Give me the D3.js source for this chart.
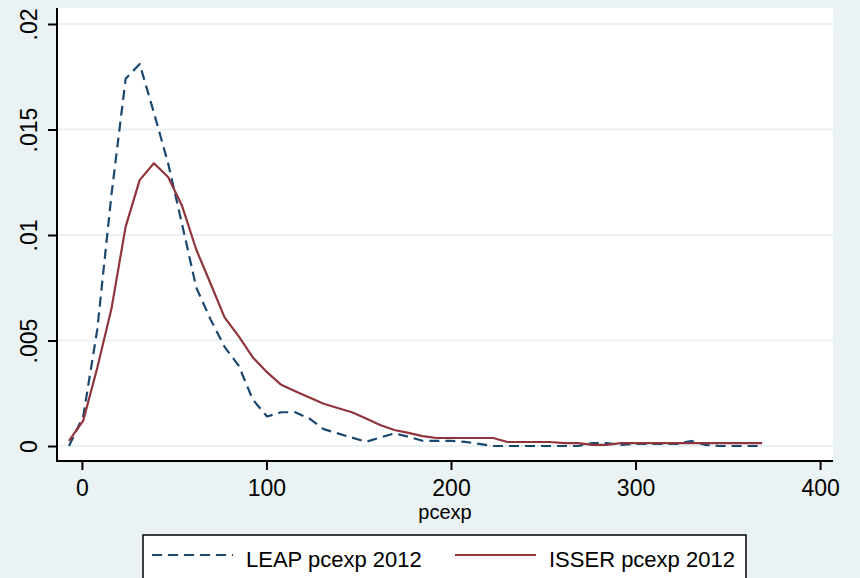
<!DOCTYPE html>
<html>
<head>
<meta charset="utf-8">
<script src="https://cdn.jsdelivr.net/npm/d3@7"></script>
<style>
  html, body { margin: 0; padding: 0; background: #eaf2f3; }
  svg { display: block; font-family: "Liberation Sans", Arial, sans-serif; }
</style>
</head>
<body>
<svg id="chart" width="860" height="578"></svg>
<script>
// kdensity evaluation grid (pcexp), shared by both series
const gridX = [
  -7.0, 0.7, 8.3, 16.0, 23.7, 31.3, 39.0, 46.7, 54.3, 62.0,
  69.7, 77.3, 85.0, 92.6, 100.3, 108.0, 115.6, 123.3, 131.0, 138.6,
  146.3, 154.0, 161.6, 169.3, 177.0, 184.6, 192.3, 199.9, 207.6, 215.3,
  222.9, 230.6, 238.3, 245.9, 253.6, 261.3, 268.9, 276.6, 284.2, 291.9,
  299.6, 307.2, 314.9, 322.6, 330.2, 337.9, 345.6, 353.2, 360.9, 368.6
];

const leapDensity = [
  0, 0.0014, 0.0055, 0.0119, 0.0174, 0.0181, 0.0158, 0.0134, 0.0105, 0.0075,
  0.0060, 0.0047, 0.0038, 0.0022, 0.0014, 0.0016, 0.0016, 0.0013, 0.0008, 0.0006,
  0.0004, 0.0002, 0.0004, 0.0006, 0.00044, 0.00025, 0.00024, 0.00024, 0.0002, 0.0001,
  0, 0, 0, 0, 0, 0, 0, 0.00014, 0.00014, 0.00005,
  0.0001, 0.0001, 0.0001, 0.0001, 0.00024, 0.00005, 0, 0, 0, 0
];

const isserDensity = [
  0.00024, 0.0012, 0.0037, 0.0065, 0.0104, 0.0126, 0.0134, 0.01275, 0.01137, 0.0093,
  0.0077, 0.0061, 0.0052, 0.0042, 0.0035, 0.0029, 0.0026, 0.0023, 0.0020, 0.0018,
  0.0016, 0.0013, 0.0010, 0.00076, 0.00062, 0.00047, 0.00038, 0.00038, 0.00038, 0.00038,
  0.00038, 0.00019, 0.00019, 0.00019, 0.00019, 0.00014, 0.00014, 0.00005, 0.00005, 0.00014,
  0.00014, 0.00014, 0.00014, 0.00014, 0.00014, 0.00014, 0.00014, 0.00014, 0.00014, 0.00014
];

const xTicks = [0, 100, 200, 300, 400];
const yTicks = [0, 0.005, 0.01, 0.015, 0.02];
const seriesNames = ["LEAP pcexp 2012", "ISSER pcexp 2012"];

const BLUE = "#1a476f";
const RED = "#90353b";
const GRID = "#eaf2f3";

const svg = d3.select("#chart");

// plot region in pixels
const plot = { left: 57, right: 833, top: 8, bottom: 461 };

const x = d3.scaleLinear().domain([-13.5, 407]).range([plot.left, plot.right]);
const y = d3.scaleLinear().domain([-0.00071, 0.020758]).range([plot.bottom, plot.top]);

svg.append("rect")
  .attr("x", plot.left).attr("y", plot.top)
  .attr("width", plot.right - plot.left).attr("height", plot.bottom - plot.top)
  .attr("fill", "#fff");

// horizontal grid
svg.append("g")
  .selectAll("line")
  .data(yTicks)
  .join("line")
  .attr("x1", plot.left).attr("x2", plot.right)
  .attr("y1", (d) => y(d)).attr("y2", (d) => y(d))
  .attr("stroke", GRID)
  .attr("stroke-width", 2);

const line = d3.line()
  .x((d) => x(d[0]))
  .y((d) => y(d[1]));

const series = [
  { name: seriesNames[0], values: leapDensity, color: BLUE, dash: "10,6" },
  { name: seriesNames[1], values: isserDensity, color: RED, dash: null },
];

series.forEach((s) => {
  svg.append("path")
    .datum(gridX.map((gx, i) => [gx, s.values[i]]))
    .attr("fill", "none")
    .attr("stroke", s.color)
    .attr("stroke-width", 2.2)
    .attr("stroke-linejoin", "round")
    .attr("stroke-dasharray", s.dash)
    .attr("d", line);
});

// y axis
const fmtY = (d) => (d === 0 ? "0" : String(d).replace(/^0/, ""));
const yAxis = svg.append("g")
  .attr("transform", `translate(${plot.left},0)`)
  .call(d3.axisLeft(y).tickValues(yTicks).tickSize(9).tickFormat(fmtY));
yAxis.select(".domain").remove();
yAxis.selectAll(".tick line").attr("stroke", "#000").attr("stroke-width", 2);
yAxis.selectAll(".tick text")
  .attr("x", null).attr("dy", null)
  .attr("text-anchor", "middle")
  .attr("transform", "translate(-20,0) rotate(-90)")
  .attr("font-size", 23)
  .attr("fill", "#000");

// x axis
const xAxis = svg.append("g")
  .attr("transform", `translate(0,${plot.bottom})`)
  .call(d3.axisBottom(x).tickValues(xTicks).tickSize(9).tickFormat(d3.format("d")));
xAxis.select(".domain").remove();
xAxis.selectAll(".tick line").attr("stroke", "#000").attr("stroke-width", 2);
xAxis.selectAll(".tick text")
  .attr("y", 35).attr("dy", null)
  .attr("font-size", 23)
  .attr("fill", "#000");

// axis lines drawn over the grid
svg.append("line")
  .attr("x1", plot.left).attr("x2", plot.left)
  .attr("y1", plot.top).attr("y2", plot.bottom + 1)
  .attr("stroke", "#000").attr("stroke-width", 2);
svg.append("line")
  .attr("x1", plot.left - 1).attr("x2", plot.right)
  .attr("y1", plot.bottom).attr("y2", plot.bottom)
  .attr("stroke", "#000").attr("stroke-width", 2);

svg.append("text")
  .attr("x", 445).attr("y", 519)
  .attr("text-anchor", "middle")
  .attr("font-size", 20)
  .text("pcexp");

// legend
const legend = svg.append("g");
legend.append("rect")
  .attr("x", 143).attr("y", 535)
  .attr("width", 603).attr("height", 60)
  .attr("fill", "#fff")
  .attr("stroke", "#000")
  .attr("stroke-width", 1.5);

const legendItems = [
  { s: series[0], x0: 152, tx: 246 },
  { s: series[1], x0: 455, tx: 549 },
];
legendItems.forEach((it) => {
  legend.append("line")
    .attr("x1", it.x0).attr("x2", it.x0 + 81)
    .attr("y1", 555).attr("y2", 555)
    .attr("stroke", it.s.color)
    .attr("stroke-width", 2.2)
    .attr("stroke-dasharray", it.s.dash);
  legend.append("text")
    .attr("x", it.tx).attr("y", 567)
    .attr("font-size", 22)
    .text(it.s.name);
});
</script>
</body>
</html>
